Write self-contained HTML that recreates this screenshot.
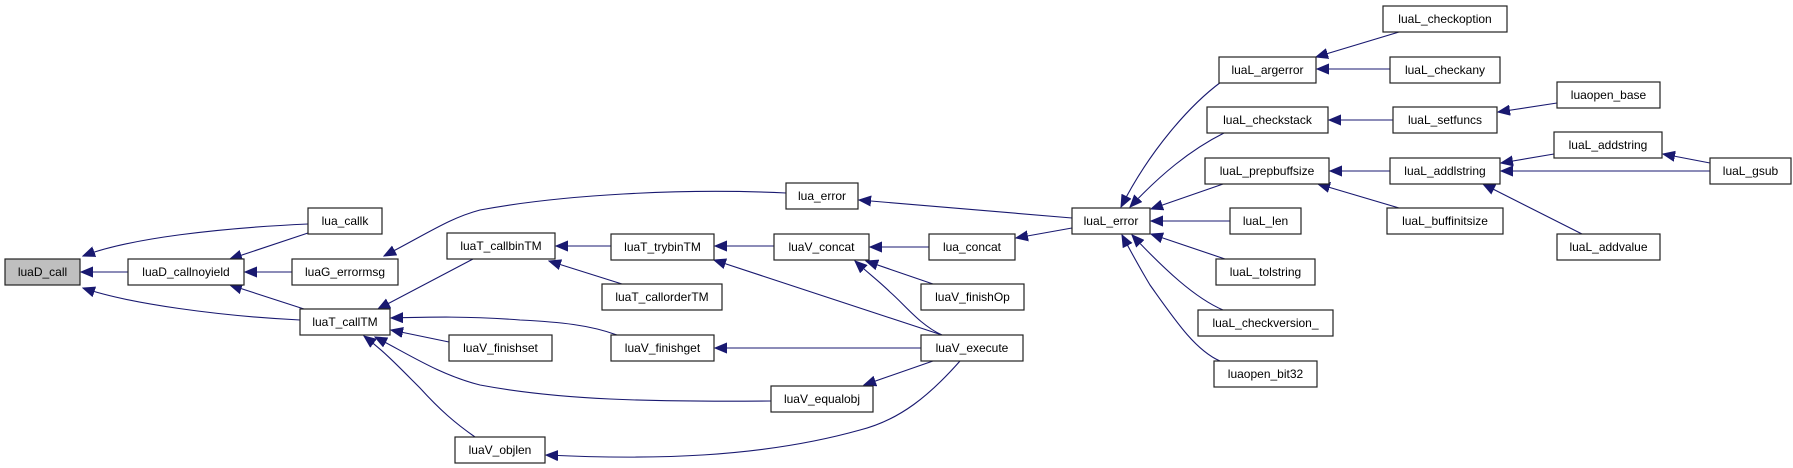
<!DOCTYPE html>
<html><head><meta charset="utf-8"><style>
html,body{margin:0;padding:0;background:#fff;}
svg{display:block;}
text{font-family:"Liberation Sans",Arial,sans-serif;font-size:12px;fill:#000;text-anchor:middle;}
.n{fill:#fff;stroke:#222;stroke-width:1.2;}
.e{fill:none;stroke:#191970;stroke-width:1.1;}
</style></head><body>
<svg width="1793" height="468" viewBox="0 0 1793 468" xmlns="http://www.w3.org/2000/svg">
<defs><marker id="a" markerUnits="userSpaceOnUse" markerWidth="13" markerHeight="11" refX="12" refY="5.5" orient="auto"><path d="M0,0.5 L12,5.5 L0,10.5 z" fill="#191970" stroke="#191970"/></marker></defs>
<g marker-end="url(#a)" class="e">
<path class="e" d="M308,224 C220,228 130,238 83,256"/>
<path class="e" d="M128,272 L81,272"/>
<path class="e" d="M300,320 C220,316 130,304 83,288"/>
<path class="e" d="M308,233 L230,259"/>
<path class="e" d="M292,272 L245,272"/>
<path class="e" d="M304,309 L230,285"/>
<path class="e" d="M786,193 C680,188 560,195 480,210 C450,218 430,232 384,256"/>
<path class="e" d="M473,259 L378,309"/>
<path class="e" d="M611,246 L556,246"/>
<path class="e" d="M622,284 L549,261"/>
<path class="e" d="M449,342 L391,330"/>
<path class="e" d="M617,335 C590,325 560,322 520,320 C470,316 430,317 391,318"/>
<path class="e" d="M771,401 C650,402 560,400 480,385 C440,375 410,355 375,337"/>
<path class="e" d="M475,437 C455,423 440,410 420,388 C400,368 385,352 364,336"/>
<path class="e" d="M774,246 L715,246"/>
<path class="e" d="M942,335 L714,260"/>
<path class="e" d="M921,348 L715,348"/>
<path class="e" d="M933,361 L864,385"/>
<path class="e" d="M960,361 C930,395 900,420 860,430 C760,458 650,460 546,455"/>
<path class="e" d="M929,247 L870,247"/>
<path class="e" d="M933,284 L866,261"/>
<path class="e" d="M942,335 C920,325 905,305 890,292 C880,282 868,273 855,261"/>
<path class="e" d="M1072,218 L859,200"/>
<path class="e" d="M1072,228 L1016,238"/>
<path class="e" d="M1221,82 C1190,105 1150,150 1121,207"/>
<path class="e" d="M1224,133 C1190,150 1160,175 1130,207"/>
<path class="e" d="M1226,183 L1151,209"/>
<path class="e" d="M1230,221 L1151,221"/>
<path class="e" d="M1225,259 L1151,234"/>
<path class="e" d="M1223,310 C1195,298 1165,270 1132,235"/>
<path class="e" d="M1220,361 C1195,350 1175,320 1150,285 C1138,265 1130,250 1122,235"/>
<path class="e" d="M1399,32 L1316,57"/>
<path class="e" d="M1390,69 L1317,69"/>
<path class="e" d="M1393,120 L1329,120"/>
<path class="e" d="M1557,103 L1498,112"/>
<path class="e" d="M1390,171 L1330,171"/>
<path class="e" d="M1399,208 L1318,184"/>
<path class="e" d="M1554,154 L1501,163"/>
<path class="e" d="M1710,171 L1501,171"/>
<path class="e" d="M1582,234 L1483,184"/>
<path class="e" d="M1710,163 L1663,154"/>
</g>
<g>
<rect x="5" y="259" width="75" height="26" fill="#bfbfbf" stroke="#222" stroke-width="1.2"/><text x="42.5" y="276">luaD_call</text>
<rect class="n" x="128" y="259" width="116" height="26"/><text x="186" y="276">luaD_callnoyield</text>
<rect class="n" x="308" y="208" width="74" height="26"/><text x="345" y="225">lua_callk</text>
<rect class="n" x="292" y="259" width="106" height="26"/><text x="345" y="276">luaG_errormsg</text>
<rect class="n" x="300" y="309" width="90" height="26"/><text x="345" y="326">luaT_callTM</text>
<rect class="n" x="447" y="233" width="108" height="26"/><text x="501" y="250">luaT_callbinTM</text>
<rect class="n" x="449" y="335" width="103" height="26"/><text x="500.5" y="352">luaV_finishset</text>
<rect class="n" x="455" y="437" width="90" height="26"/><text x="500" y="454">luaV_objlen</text>
<rect class="n" x="611" y="234" width="103" height="26"/><text x="662.5" y="251">luaT_trybinTM</text>
<rect class="n" x="602" y="284" width="120" height="26"/><text x="662" y="301">luaT_callorderTM</text>
<rect class="n" x="611" y="335" width="103" height="26"/><text x="662.5" y="352">luaV_finishget</text>
<rect class="n" x="771" y="386" width="102" height="26"/><text x="822" y="403">luaV_equalobj</text>
<rect class="n" x="786" y="183" width="72" height="26"/><text x="822" y="200">lua_error</text>
<rect class="n" x="774" y="234" width="95" height="26"/><text x="821.5" y="251">luaV_concat</text>
<rect class="n" x="929" y="234" width="86" height="26"/><text x="972" y="251">lua_concat</text>
<rect class="n" x="921" y="284" width="103" height="26"/><text x="972.5" y="301">luaV_finishOp</text>
<rect class="n" x="921" y="335" width="102" height="26"/><text x="972" y="352">luaV_execute</text>
<rect class="n" x="1072" y="208" width="78" height="26"/><text x="1111" y="225">luaL_error</text>
<rect class="n" x="1219" y="57" width="97" height="26"/><text x="1267.5" y="74">luaL_argerror</text>
<rect class="n" x="1207" y="107" width="121" height="26"/><text x="1267.5" y="124">luaL_checkstack</text>
<rect class="n" x="1205" y="158" width="124" height="26"/><text x="1267" y="175">luaL_prepbuffsize</text>
<rect class="n" x="1230" y="208" width="71" height="26"/><text x="1265.5" y="225">luaL_len</text>
<rect class="n" x="1216" y="259" width="99" height="26"/><text x="1265.5" y="276">luaL_tolstring</text>
<rect class="n" x="1198" y="310" width="135" height="26"/><text x="1265.5" y="327">luaL_checkversion_</text>
<rect class="n" x="1214" y="361" width="103" height="26"/><text x="1265.5" y="378">luaopen_bit32</text>
<rect class="n" x="1383" y="6" width="124" height="26"/><text x="1445" y="23">luaL_checkoption</text>
<rect class="n" x="1390" y="57" width="110" height="26"/><text x="1445" y="74">luaL_checkany</text>
<rect class="n" x="1393" y="107" width="104" height="26"/><text x="1445" y="124">luaL_setfuncs</text>
<rect class="n" x="1557" y="82" width="103" height="26"/><text x="1608.5" y="99">luaopen_base</text>
<rect class="n" x="1390" y="158" width="110" height="26"/><text x="1445" y="175">luaL_addlstring</text>
<rect class="n" x="1387" y="208" width="116" height="26"/><text x="1445" y="225">luaL_buffinitsize</text>
<rect class="n" x="1554" y="132" width="108" height="26"/><text x="1608" y="149">luaL_addstring</text>
<rect class="n" x="1557" y="234" width="103" height="26"/><text x="1608.5" y="251">luaL_addvalue</text>
<rect class="n" x="1710" y="158" width="81" height="26"/><text x="1750.5" y="175">luaL_gsub</text>
</g>
</svg>
</body></html>
